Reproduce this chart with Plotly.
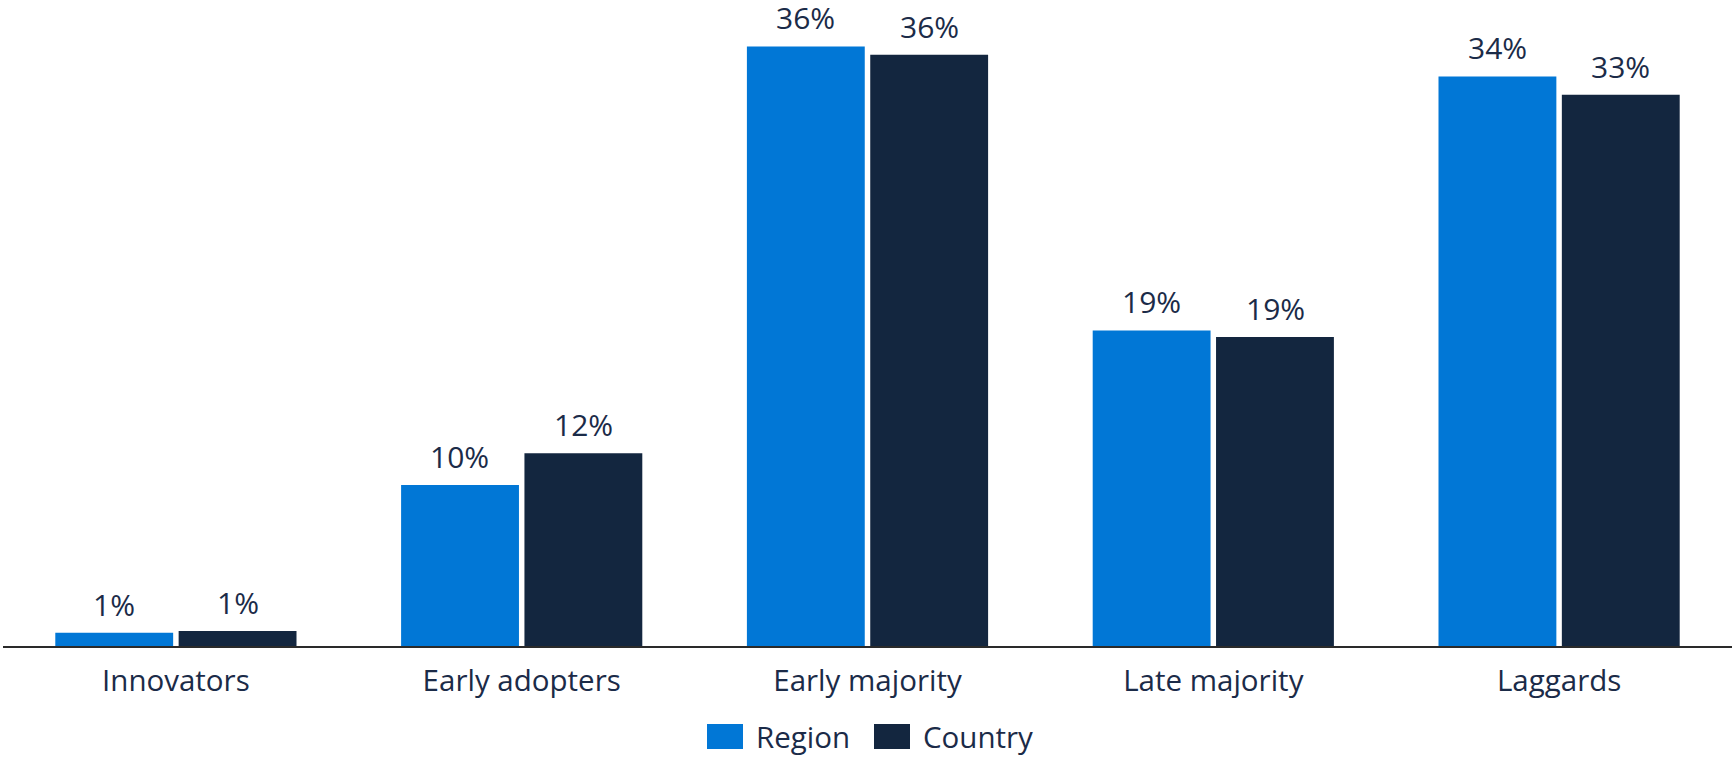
import plotly.graph_objects as go

categories = ["Innovators", "Early adopters", "Early majority", "Late majority", "Laggards"]
region_values = [0.8, 9.7, 36.1, 19.0, 34.3]
country_values = [0.9, 11.6, 35.6, 18.6, 33.2]
series_names = ["Region", "Country"]
series_colors = ["#0177D6", "#13263F"]

TEXT = "#1B2B48"
FONT = "Open Sans"

fig = go.Figure()
series = [region_values, country_values]
for name, vals, col in zip(series_names, series, series_colors):
    fig.add_trace(go.Bar(
        x=categories, y=vals, name=name,
        marker=dict(color=col, line=dict(width=0)),
        showlegend=False,
    ))

# value labels above each bar (bar offset within group: +/- half a group slot)
BAR_OFFSET_PX = 61.75
for i, vals in enumerate(series):
    shift = -BAR_OFFSET_PX if i == 0 else BAR_OFFSET_PX
    for cat, v in zip(categories, vals):
        fig.add_annotation(x=cat, y=v, xref="x", yref="y", text=f"{v:.0f}%",
                           showarrow=False, xanchor="center", yanchor="bottom",
                           xshift=shift, yshift=6,
                           font=dict(family=FONT, size=30, color=TEXT))

# manual legend (large swatches)
W = 1729.0
H = 646.0
def px(x):
    return (x - 3) / W
def py(y):
    return (H - y) / H

legend_items = [(series_names[0], series_colors[0], 707), (series_names[1], series_colors[1], 874)]
for name, col, x0 in legend_items:
    fig.add_shape(type="rect", xref="paper", yref="paper",
                  x0=px(x0), x1=px(x0 + 36), y0=py(749), y1=py(724),
                  fillcolor=col, line=dict(width=0))
    fig.add_annotation(xref="paper", yref="paper", x=px(x0 + 47), y=py(736),
                       text=name, showarrow=False, xanchor="left", yanchor="middle",
                       font=dict(family=FONT, size=29.5, color=TEXT))

fig.update_layout(
    width=1732, height=757,
    margin=dict(l=3, r=0, t=0, b=111),
    paper_bgcolor="white", plot_bgcolor="white",
    barmode="group", bargap=0.2866, bargroupgap=0.0445,
    font=dict(family=FONT, color=TEXT),
)
fig.update_xaxes(showline=True, linecolor="#2A2A2A", linewidth=2, showgrid=False,
                 ticks="", tickfont=dict(family=FONT, size=29.5, color=TEXT),
                 ticklabelstandoff=8)
fig.update_yaxes(visible=False, range=[0, 38.9], showgrid=False, zeroline=False)

fig.write_html("out.html")
